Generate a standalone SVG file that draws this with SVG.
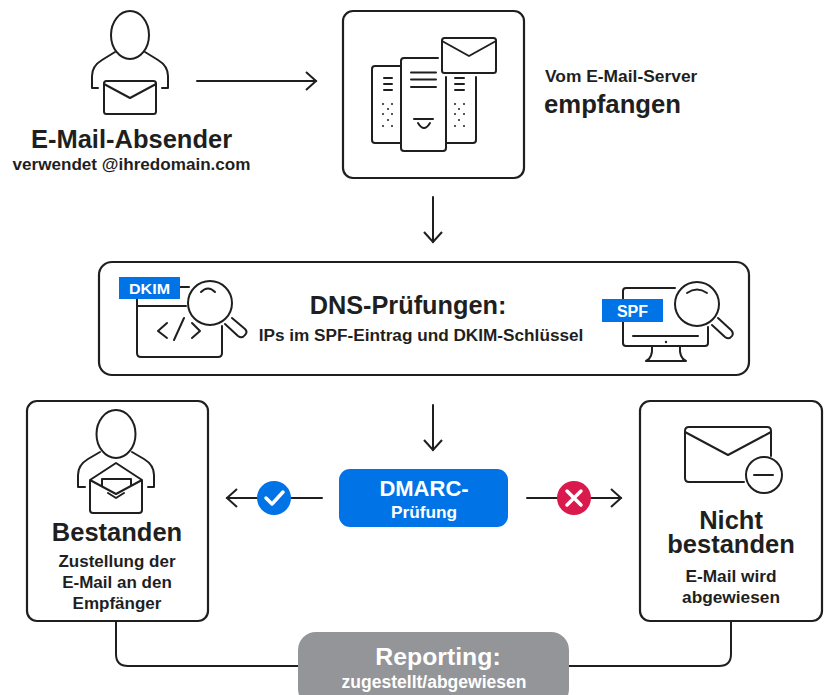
<svg xmlns="http://www.w3.org/2000/svg" width="824" height="695" viewBox="0 0 824 695">
<style>
text{font-family:"Liberation Sans",Arial,sans-serif;font-weight:700;text-anchor:middle;fill:#1f1f1f}
.w{fill:#fff}
.l{fill:none;stroke:#1f1f1f;stroke-width:2;stroke-linecap:round;stroke-linejoin:round}
.b{fill:#fff;stroke:#1f1f1f;stroke-width:2.2}
.d{fill:#1f1f1f}
</style>
<defs>
<marker id="arr" markerUnits="userSpaceOnUse" markerWidth="14" markerHeight="22" refX="12" refY="11" orient="auto"><path d="M2,2L12,11L2,20" fill="none" stroke="#1f1f1f" stroke-width="2"/></marker>
</defs>
<rect width="824" height="695" fill="#fff"/>
<g id="connectors">
<path class="l" d="M197,81H316" marker-end="url(#arr)"/>
<path class="l" d="M433,197V242" marker-end="url(#arr)"/>
<path class="l" d="M433,405V450" marker-end="url(#arr)"/>
<path class="l" d="M322,498H227" marker-end="url(#arr)"/>
<path class="l" d="M527,498H621" marker-end="url(#arr)"/>
<path class="l" d="M116,621V654Q116,666 128,666H299"/>
<path class="l" d="M731,621V654Q731,666 719,666H569"/>
</g>
<g id="sender">
<ellipse class="l" cx="130" cy="35" rx="19" ry="24"/>
<path class="l" d="M115,52L102,60Q92,66 92,76V88H98M145,52L158,60Q168,66 168,76V88H162"/>
<rect class="l" x="104" y="81" width="52" height="33" rx="2.5"/>
<path class="l" d="M104,84L130,98L156,84"/>
<text x="131.500" y="148" font-size="25.500">E-Mail-Absender</text>
<text x="131.500" y="170" font-size="17.100">verwendet @ihredomain.com</text>
</g>
<g id="server">
<rect class="b" x="343" y="11" width="181" height="167" rx="10"/>
<path class="l" d="M401,66H375Q372,66 372,69V140Q372,143 375,143H401"/>
<path class="l" d="M438,58H404Q401,58 401,61V148Q401,151 404,151H443Q446,151 446,148V77"/>
<path class="l" d="M446,143H473Q476,143 476,140V77"/>
<rect class="l" x="442" y="38" width="54" height="35" rx="2.500"/>
<path class="l" d="M442,41L469,56L496,41"/>
<path class="l" d="M411,72.500H436M411,79.500H436M411,87H436M384,78H392M384,84H392M384,90H392M455,78H464M455,84H464M455,90H464M414,119H433M418,123Q424,133 430,123"/>
<g class="d"><circle cx="383" cy="104" r="1"/><circle cx="392" cy="104" r="1"/><circle cx="388" cy="109" r="1"/><circle cx="383" cy="114" r="1"/><circle cx="392" cy="114" r="1"/><circle cx="388" cy="120" r="1"/><circle cx="383" cy="126" r="1"/><circle cx="392" cy="126" r="1"/><circle cx="455" cy="104" r="1"/><circle cx="464" cy="104" r="1"/><circle cx="459" cy="109" r="1"/><circle cx="455" cy="114" r="1"/><circle cx="464" cy="114" r="1"/><circle cx="459" cy="120" r="1"/><circle cx="455" cy="126" r="1"/><circle cx="464" cy="126" r="1"/></g>
</g>
<g id="server-label">
<text x="545" y="82" font-size="17.400" style="text-anchor:start">Vom E-Mail-Server</text>
<text x="544" y="113" font-size="25.700" style="text-anchor:start">empfangen</text>
</g>
<g id="dns">
<rect class="b" x="99" y="262" width="650" height="113" rx="13"/>
<text x="408" y="314" font-size="25.300">DNS-Prüfungen:</text>
<text x="421" y="341" font-size="17.200">IPs im SPF-Eintrag und DKIM-Schlüssel</text>
</g>
<g id="dkim">
<path class="l" d="M180,287H189M137,299V353Q137,357 141,357H218Q222,357 222,353V326M137,306H186"/>
<rect x="119" y="277" width="61" height="22" fill="#0073e6"/>
<text class="w" x="149.500" y="294" font-size="14" textLength="41" lengthAdjust="spacingAndGlyphs">DKIM</text>
<circle class="l" cx="210" cy="303" r="22"/>
<path class="l" d="M201,292Q208,285 215,292M225,324L238,336Q242,339 245,335Q248,332 245,329L232,318M167,323L158,331L167,338M184,318L174,340M192,323L200,331L192,338"/>
</g>
<g id="spf">
<path class="l" d="M675,288H626Q623,288 623,291V299M623,322V343Q623,346 626,346H705Q708,346 708,343V327M633,336H698M652,346Q653,358 646,361H686Q679,358 680,346"/>
<circle class="d" cx="666" cy="342" r="1.200"/>
<rect x="602" y="299" width="61" height="23" fill="#0073e6"/>
<text class="w" x="632.500" y="317" font-size="16">SPF</text>
<circle class="l" cx="697" cy="304" r="22"/>
<path class="l" d="M687,293Q697,286 707,293M712,325L725,337Q729,340 732,336Q734,333 731,330L718,318"/>
</g>
<g id="passed">
<rect class="b" x="27" y="401" width="181" height="220" rx="10"/>
<ellipse class="l" cx="116" cy="434" rx="19.500" ry="24"/>
<path class="l" d="M100,452L88,459Q78,465 78,475V487H85M132,452L144,459Q154,465 154,475V487H148"/>
<path class="l" d="M90,480L116,463L142,480V510Q142,513 139,513H93Q90,513 90,510ZM90,480L116,494L142,480M102,486V479H131V486M108,493L116,498L124,493"/>
<text x="117" y="541" font-size="25.500">Bestanden</text>
<text x="117" y="567" font-size="17">Zustellung der</text>
<text x="117" y="588" font-size="17">E-Mail an den</text>
<text x="117" y="609" font-size="17">Empfänger</text>
</g>
<g id="dmarc">
<rect x="339" y="469" width="169" height="58" rx="11" fill="#0073e6"/>
<text class="w" x="424" y="496" font-size="22">DMARC-</text>
<text class="w" x="424" y="518" font-size="17.300">Prüfung</text>
</g>
<g id="check">
<circle cx="274" cy="498" r="17" fill="#0073e6"/>
<path d="M266,498L272,504L283,492" fill="none" stroke="#fff" stroke-width="3.500" stroke-linecap="round" stroke-linejoin="round"/>
</g>
<g id="cross">
<circle cx="574" cy="498" r="17" fill="#da1a4c"/>
<path d="M567,491L581,505M581,491L567,505" fill="none" stroke="#fff" stroke-width="3.500" stroke-linecap="round"/>
</g>
<g id="failed">
<rect class="b" x="640" y="401" width="182" height="220" rx="10"/>
<path class="l" d="M744,482H689Q685,482 685,478V431Q685,427 689,427H767Q771,427 771,431V456"/>
<path class="l" d="M685,432L728,455L771,432"/>
<circle class="l" cx="764" cy="475" r="18"/>
<path class="l" d="M754,475H773"/>
<text x="731" y="529" font-size="25.500">Nicht</text>
<text x="731" y="553" font-size="25.500">bestanden</text>
<text x="731" y="582" font-size="17.300">E-Mail wird</text>
<text x="731" y="603" font-size="17.300">abgewiesen</text>
</g>
<g id="reporting">
<rect x="298" y="632" width="271" height="75" rx="18" fill="#939598"/>
<text class="w" x="438" y="665" font-size="24.800">Reporting:</text>
<text class="w" x="434" y="688" font-size="17.500">zugestellt/abgewiesen</text>
</g>
</svg>
